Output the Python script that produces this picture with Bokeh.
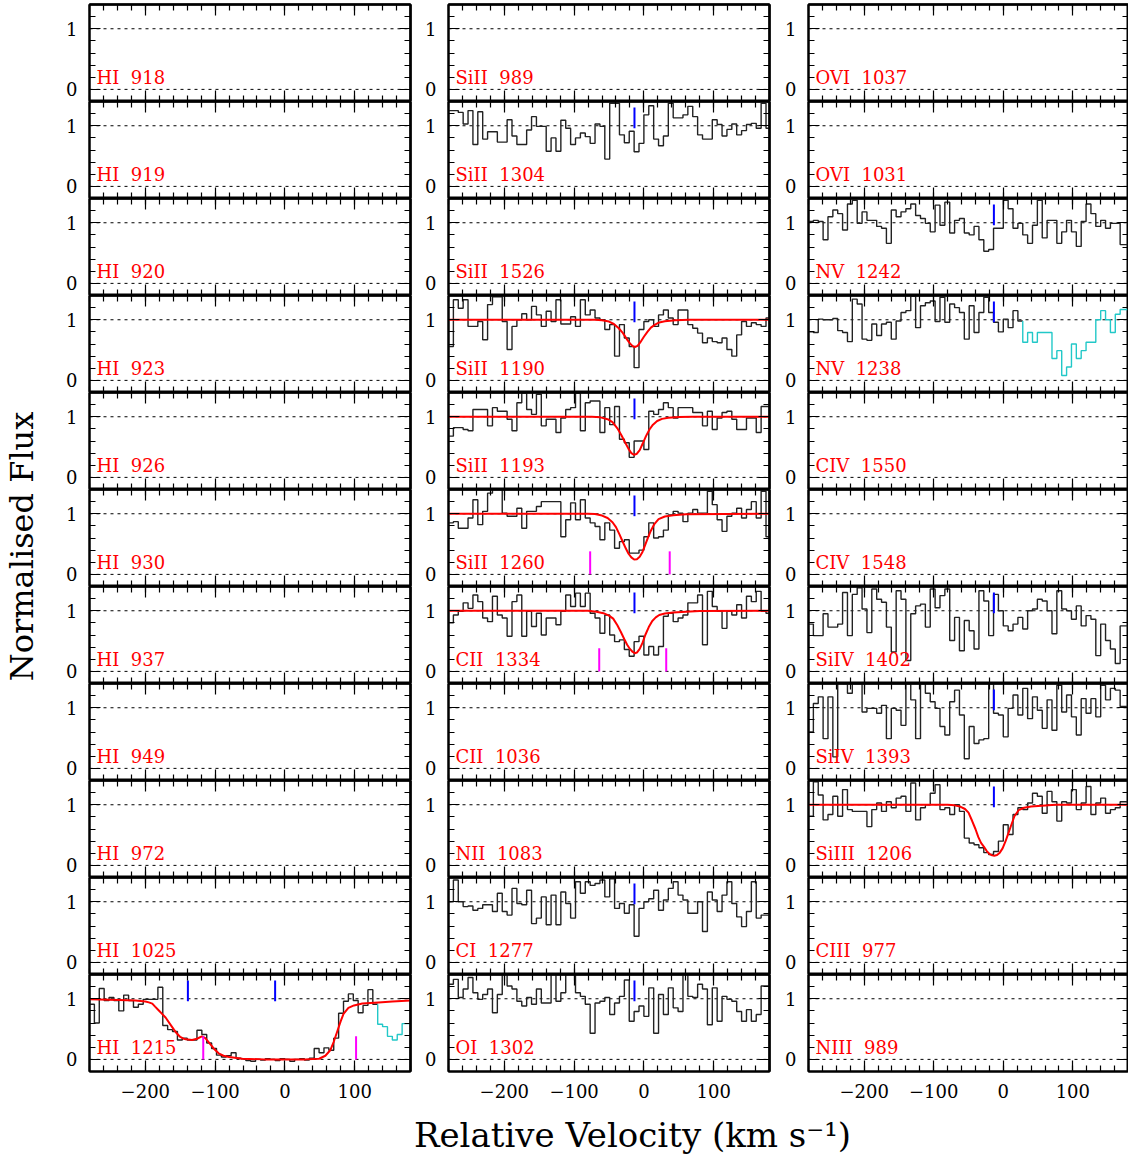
import numpy as np
from math import pi
from bokeh.plotting import figure
from bokeh.layouts import gridplot, row, column
from bokeh.models import Range1d, FixedTicker, LinearAxis, Span, Label
from bokeh.embed import file_html
from bokeh.resources import INLINE

FONT = "DejaVu Serif"

# ---------------- axes ----------------
X_RANGE = (-280, 180)
Y_RANGE = (-0.2, 1.4)
X_MAJOR = [-200, -100, 0, 100]
X_MAJOR_LABELS = ["\u2212200", "\u2212100", "0", "100"]
X_MINOR = [-280, -260, -240, -220, -200, -180, -160, -140, -120, -100, -80, -60,
           -40, -20, 0, 20, 40, 60, 80, 100, 120, 140, 160, 180]
Y_MAJOR = [0, 1]
Y_MINOR = [-0.2, 0.0, 0.2, 0.4, 0.6, 0.8, 1.0, 1.2, 1.4]

# velocity pixel grid of the spectra (km/s)
V_START = -280.0
BIN_WIDTH = 7.0
N_BINS = 66
edges = V_START + BIN_WIDTH * np.arange(N_BINS + 1)

# ---------------- panel labels ----------------
col1_labels = ["HI 918", "HI 919", "HI 920", "HI 923", "HI 926", "HI 930",
               "HI 937", "HI 949", "HI 972", "HI 1025", "HI 1215"]
col2_labels = ["SiII 989", "SiII 1304", "SiII 1526", "SiII 1190", "SiII 1193",
               "SiII 1260", "CII 1334", "CII 1036", "NII 1083", "CI 1277", "OI 1302"]
col3_labels = ["OVI 1037", "OVI 1031", "NV 1242", "NV 1238", "CIV 1550", "CIV 1548",
               "SiIV 1402", "SiIV 1393", "SiIII 1206", "CIII 977", "NIII 989"]

# ---------------- spectra (normalised flux per velocity bin) ----------------
flux_HI_1215 = [0.91, 0.60, 1.17, 0.97, 1.02, 0.97, 0.80, 1.06, 0.97, 0.86,
                0.91, 0.99, 0.99, 0.99, 1.19, 0.56, 0.49, 0.46, 0.32, 0.35,
                0.32, 0.32, 0.48, 0.41, 0.27, 0.18, 0.07, 0.04, 0.06, 0.11,
                0.02, 0.01, -0.02, -0.03, 0.00, -0.01, 0.01, 0.00, -0.02, 0.01,
                0.00, -0.03, 0.00, 0.01, -0.01, 0.02, 0.18, 0.11, 0.19, 0.15,
                0.35, 0.76, 0.96, 1.08, 0.97, 0.77, 0.89, 1.15, 0.91]
flux_HI_1215_blend = [0.58, 0.54, 0.38, 0.32, 0.41, 0.59, 0.59]

flux_SiII_1304 = [1.25, 1.25, 1.22, 1.03, 1.25, 0.69, 1.23, 0.78, 0.90, 0.90,
                  0.73, 0.73, 1.10, 0.83, 0.69, 0.69, 0.93, 1.15, 0.99, 0.99,
                  0.58, 0.80, 0.58, 1.09, 0.96, 0.69, 0.80, 0.88, 0.82, 0.71,
                  1.03, 0.99, 0.45, 1.37, 1.37, 0.85, 0.72, 0.91, 0.57, 0.71,
                  1.18, 1.33, 0.78, 0.67, 0.83, 1.37, 1.13, 1.13, 1.18, 1.32,
                  1.15, 0.85, 0.78, 0.78, 1.10, 1.02, 0.83, 0.94, 1.03, 0.85,
                  0.92, 1.02, 1.04, 0.96, 1.37, 0.96]
flux_SiII_1190 = [0.56, 1.33, 1.19, 1.33, 0.89, 0.89, 0.97, 0.67, 1.25, 1.38,
                  1.38, 0.97, 0.51, 0.89, 1.00, 1.10, 1.00, 1.22, 1.08, 0.89,
                  1.14, 0.97, 1.33, 0.93, 0.93, 1.05, 0.89, 1.33, 1.08, 1.16,
                  1.03, 1.00, 0.84, 0.92, 0.40, 0.92, 0.70, 0.56, 0.21, 0.84,
                  0.97, 1.00, 0.89, 1.08, 1.16, 1.03, 0.92, 1.16, 1.16, 0.92,
                  0.86, 0.78, 0.62, 0.70, 0.64, 0.62, 0.70, 0.51, 0.40, 0.75,
                  0.97, 0.89, 0.95, 0.92, 0.89, 1.03]
flux_SiII_1193 = [0.68, 0.82, 0.82, 0.79, 0.77, 1.12, 1.12, 1.12, 0.85, 1.15,
                  1.09, 1.09, 0.96, 0.77, 1.23, 1.39, 1.12, 1.04, 1.37, 0.85,
                  0.96, 0.96, 0.74, 0.98, 1.12, 1.15, 1.39, 0.77, 1.23, 1.26,
                  1.26, 0.74, 1.15, 0.87, 1.17, 0.63, 0.57, 0.33, 0.60, 0.60,
                  0.46, 1.09, 1.04, 1.12, 1.23, 1.15, 0.98, 1.15, 1.15, 1.15,
                  1.07, 1.07, 0.85, 1.09, 0.79, 0.98, 1.07, 1.09, 0.96, 0.79,
                  0.79, 0.98, 0.98, 0.74, 1.17, 1.17]
flux_SiII_1260 = [0.85, 0.87, 0.76, 0.76, 0.93, 1.23, 0.82, 1.04, 1.34, 1.40,
                  1.40, 1.01, 0.96, 0.96, 1.09, 0.76, 1.04, 1.04, 1.12, 1.20,
                  1.20, 1.20, 1.20, 0.62, 0.90, 1.18, 0.90, 1.23, 0.93, 0.85,
                  0.79, 0.57, 0.85, 0.73, 0.43, 0.54, 0.57, 0.35, 0.35, 0.40,
                  0.62, 0.85, 0.60, 0.62, 0.73, 0.98, 1.04, 1.01, 0.87, 1.01,
                  1.07, 1.01, 1.01, 1.37, 1.15, 0.90, 0.71, 0.96, 1.01, 1.09,
                  0.93, 1.07, 1.20, 0.93, 1.37, 0.62]
flux_CII_1334 = [0.80, 0.93, 0.99, 1.13, 1.04, 1.26, 1.15, 0.88, 0.82, 1.24,
                 0.93, 0.88, 0.58, 1.15, 1.26, 0.58, 0.99, 0.74, 0.96, 0.60,
                 0.88, 0.88, 0.77, 0.99, 1.26, 1.07, 1.29, 1.07, 1.29, 0.96,
                 0.88, 0.63, 0.93, 0.60, 0.49, 0.52, 0.36, 0.25, 0.49, 0.58,
                 0.27, 0.41, 0.27, 0.41, 0.91, 0.96, 0.82, 0.88, 0.93, 1.13,
                 1.13, 1.26, 0.44, 1.32, 1.07, 0.99, 0.71, 0.99, 0.93, 1.10,
                 0.88, 1.24, 1.15, 1.32, 0.99, 0.96]
flux_CI_1277 = [1.00, 1.36, 1.00, 0.92, 0.93, 0.86, 0.89, 0.95, 0.95, 0.84,
                1.14, 0.84, 0.78, 1.22, 0.97, 0.95, 1.19, 0.64, 0.73, 1.08,
                0.62, 1.11, 0.62, 1.16, 0.97, 0.73, 1.33, 1.14, 1.33, 1.27,
                1.30, 1.36, 1.08, 1.38, 0.89, 0.97, 0.81, 0.95, 0.43, 0.89,
                1.00, 1.05, 1.19, 0.86, 1.03, 1.22, 1.33, 1.11, 1.03, 0.81,
                0.81, 1.00, 0.51, 1.16, 1.03, 0.84, 1.11, 1.33, 0.97, 0.75,
                0.59, 0.84, 1.33, 0.73, 0.78, 0.78]
flux_OI_1302 = [1.24, 1.32, 1.02, 1.16, 1.35, 1.10, 0.99, 1.07, 1.16, 0.77,
                1.07, 1.41, 1.21, 1.16, 0.96, 0.88, 1.02, 0.91, 1.16, 0.93,
                0.93, 1.41, 0.96, 1.10, 1.41, 1.41, 1.10, 1.04, 0.91, 0.43,
                0.93, 0.96, 1.02, 0.74, 0.93, 1.04, 1.31, 0.63, 0.79, 0.88,
                0.71, 1.18, 0.43, 1.07, 0.74, 1.18, 0.85, 0.79, 1.41, 1.04,
                1.02, 1.24, 1.16, 0.57, 1.18, 0.63, 1.04, 0.99, 0.96, 0.79,
                0.63, 0.82, 0.63, 0.74, 1.21, 1.21]
flux_NV_1242 = [1.02, 1.04, 1.02, 0.72, 1.10, 1.21, 1.15, 0.88, 1.31, 1.37,
                0.99, 1.18, 1.04, 1.04, 0.94, 0.91, 0.66, 1.21, 1.10, 1.18,
                1.23, 1.31, 1.12, 1.07, 0.99, 0.85, 1.29, 0.96, 1.34, 0.83,
                1.04, 1.07, 0.83, 0.80, 0.94, 0.72, 0.53, 0.56, 0.91, 0.91,
                1.37, 1.23, 0.91, 0.99, 0.80, 0.66, 0.96, 1.37, 0.75, 1.04,
                1.04, 0.66, 0.85, 1.04, 0.85, 0.61, 1.02, 1.31, 1.15, 0.94,
                1.04, 0.91, 0.99, 0.99, 0.64, 0.64]
flux_NV_1238 = [0.80, 0.79, 1.01, 1.00, 1.00, 1.02, 0.82, 0.79, 0.64, 1.34,
                1.26, 0.68, 0.66, 0.93, 0.74, 0.93, 0.96, 0.68, 0.98, 1.12,
                1.15, 1.39, 0.87, 1.23, 1.28, 1.31, 0.97, 1.37, 0.96, 1.26,
                1.20, 1.12, 0.68, 1.23, 0.79, 1.12, 1.37, 1.12, 0.96, 0.80,
                1.01, 0.87, 1.15, 0.98]
flux_NV_1238_blend = [0.63, 0.79, 0.63, 0.79, 0.79, 0.79, 0.36, 0.49, 0.08, 0.22,
                      0.60, 0.36, 0.49, 0.63, 0.63, 1.00, 1.15, 1.00, 0.79, 1.09,
                      1.17, 1.17]
flux_SiIV_1402 = [0.78, 0.59, 0.59, 0.95, 0.73, 0.73, 0.78, 1.30, 0.59, 1.27,
                  1.38, 1.03, 0.64, 1.36, 1.19, 1.14, 0.73, 0.32, 1.33, 1.19,
                  0.18, 0.95, 1.08, 1.11, 0.73, 1.36, 1.05, 1.25, 1.36, 0.51,
                  0.89, 0.34, 0.84, 0.67, 0.37, 1.33, 1.16, 0.59, 1.27, 1.00,
                  0.75, 0.67, 0.78, 0.89, 0.70, 1.00, 1.03, 1.19, 1.16, 1.00,
                  0.62, 1.33, 1.03, 1.00, 0.86, 1.08, 0.75, 0.92, 0.86, 0.26,
                  0.78, 0.51, 0.37, 0.13, 0.75, 0.75]
flux_SiIV_1393 = [0.60, 1.07, 1.18, 0.49, 1.18, 0.19, 1.45, 1.40, 1.24, 1.40,
                  1.40, 0.93, 0.99, 0.99, 0.91, 1.04, 0.49, 0.99, 0.96, 0.71,
                  1.40, 1.13, 0.49, 1.40, 1.24, 1.10, 0.99, 0.69, 0.55, 1.10,
                  1.29, 0.88, 0.16, 0.69, 0.41, 0.47, 0.49, 1.40, 0.91, 0.88,
                  0.52, 0.99, 1.21, 0.88, 1.32, 0.82, 1.18, 0.96, 0.66, 1.13,
                  0.63, 1.37, 0.93, 1.21, 0.85, 0.55, 1.15, 0.91, 1.15, 0.85,
                  1.37, 1.13, 1.32, 1.29, 1.02, 1.02]
flux_SiIII_1206 = [0.81, 1.38, 1.16, 0.75, 0.84, 1.14, 0.81, 1.25, 0.92, 0.89,
                   0.89, 0.89, 0.64, 0.92, 1.03, 0.89, 1.05, 0.95, 1.11, 1.14,
                   0.89, 1.36, 0.75, 0.95, 1.00, 1.19, 1.33, 0.92, 0.95, 0.84,
                   1.00, 0.89, 0.45, 0.37, 0.34, 0.29, 0.21, 0.18, 0.23, 0.40,
                   0.67, 0.51, 0.84, 0.95, 0.92, 1.03, 1.19, 1.14, 0.86, 1.22,
                   1.05, 0.73, 1.05, 1.03, 1.25, 0.92, 1.03, 1.30, 0.84, 1.03,
                   1.11, 0.86, 0.92, 0.95, 1.05, 1.05]

# ---------------- fitted model profiles ----------------
model_v_HI_1215 = [-280, -238, -214, -200, -195, -190, -186, -181, -176, -171, -165,
                   -159, -155, -150, -146, -142, -133, -126, -119, -114, -109, -102,
                   -95, -88, -80, -61, -30, 0, 30, 49, 58, 65, 70, 75, 80, 84, 91,
                   99, 111, 134, 154, 180]
model_f_HI_1215 = [0.99, 0.98, 0.97, 0.955, 0.94, 0.92, 0.87, 0.81, 0.75, 0.69, 0.59,
                   0.49, 0.43, 0.37, 0.345, 0.33, 0.32, 0.34, 0.38, 0.35, 0.28, 0.18,
                   0.10, 0.06, 0.04, 0.01, 0.0, 0.0, 0.0, 0.01, 0.06, 0.15, 0.29, 0.46,
                   0.63, 0.75, 0.85, 0.89, 0.92, 0.94, 0.955, 0.97]
model_v_SiII_1190 = [-280, -70, -60, -50, -43, -36, -30, -25, -20, -16, -13, -9, -5,
                     0, 5, 10, 16, 22, 30, 45, 65, 180]
model_f_SiII_1190 = [1.0, 1.0, 0.99, 0.97, 0.93, 0.86, 0.78, 0.69, 0.61, 0.565, 0.55,
                     0.57, 0.63, 0.72, 0.80, 0.87, 0.92, 0.955, 0.975, 0.99, 1.0, 1.0]
model_v_SiII_1193 = [-280, -75, -62, -52, -45, -38, -32, -27, -22, -18, -14, -10, -6,
                     -2, 3, 8, 13, 19, 26, 35, 50, 70, 180]
model_f_SiII_1193 = [1.0, 1.0, 0.99, 0.96, 0.91, 0.81, 0.69, 0.58, 0.47, 0.40, 0.37,
                     0.39, 0.45, 0.55, 0.68, 0.79, 0.87, 0.93, 0.965, 0.985, 0.995,
                     1.0, 1.0]
model_v_SiII_1260 = [-280, -80, -70, -60, -52, -45, -40, -35, -30, -26, -22, -18, -14,
                     -10, -6, -2, 2, 6, 10, 15, 21, 30, 42, 60, 180]
model_f_SiII_1260 = [1.0, 1.0, 0.995, 0.97, 0.93, 0.86, 0.78, 0.66, 0.53, 0.43, 0.34,
                     0.28, 0.245, 0.25, 0.29, 0.37, 0.49, 0.61, 0.72, 0.83, 0.91,
                     0.955, 0.975, 0.99, 1.0]
model_v_CII_1334 = [-280, -80, -68, -58, -50, -44, -38, -33, -28, -24, -20, -16, -13,
                    -10, -6, -2, 2, 7, 12, 17, 22, 30, 42, 60, 80, 180]
model_f_CII_1334 = [1.0, 1.0, 0.985, 0.96, 0.92, 0.87, 0.76, 0.65, 0.53, 0.44, 0.37,
                    0.32, 0.30, 0.31, 0.37, 0.47, 0.60, 0.73, 0.83, 0.89, 0.93, 0.955,
                    0.97, 0.985, 0.995, 1.0]
model_v_SiIII_1206 = [-280, -80, -70, -62, -55, -50, -45, -40, -36, -32, -28, -24, -20,
                      -16, -13, -9, -5, -1, 3, 7, 11, 16, 22, 30, 40, 55, 75, 180]
model_f_SiIII_1206 = [1.0, 1.0, 0.99, 0.97, 0.93, 0.87, 0.74, 0.60, 0.47, 0.37, 0.31,
                      0.24, 0.19, 0.165, 0.16, 0.17, 0.21, 0.28, 0.39, 0.52, 0.65,
                      0.81, 0.91, 0.95, 0.97, 0.985, 1.0, 1.0]

# ---------------- component velocities ----------------
blue_HI_1215 = [-139, -14]
magenta_HI_1215 = [-117, 102]
blue_metal = [-13.5]
magenta_SiII_1260 = [-77, 37]
magenta_CII_1334 = [-64, 32]

panels = {
    "HI 1215": dict(flux=flux_HI_1215, blend=flux_HI_1215_blend,
                    model=(model_v_HI_1215, model_f_HI_1215),
                    blue=blue_HI_1215, magenta=magenta_HI_1215),
    "SiII 1304": dict(flux=flux_SiII_1304, blue=blue_metal),
    "SiII 1190": dict(flux=flux_SiII_1190, model=(model_v_SiII_1190, model_f_SiII_1190),
                      blue=blue_metal),
    "SiII 1193": dict(flux=flux_SiII_1193, model=(model_v_SiII_1193, model_f_SiII_1193),
                      blue=blue_metal),
    "SiII 1260": dict(flux=flux_SiII_1260, model=(model_v_SiII_1260, model_f_SiII_1260),
                      blue=blue_metal, magenta=magenta_SiII_1260),
    "CII 1334": dict(flux=flux_CII_1334, model=(model_v_CII_1334, model_f_CII_1334),
                     blue=blue_metal, magenta=magenta_CII_1334),
    "CI 1277": dict(flux=flux_CI_1277, blue=blue_metal),
    "OI 1302": dict(flux=flux_OI_1302, blue=blue_metal),
    "NV 1242": dict(flux=flux_NV_1242, blue=blue_metal),
    "NV 1238": dict(flux=flux_NV_1238, blend=flux_NV_1238_blend, blue=blue_metal),
    "SiIV 1402": dict(flux=flux_SiIV_1402, blue=blue_metal),
    "SiIV 1393": dict(flux=flux_SiIV_1393, blue=blue_metal),
    "SiIII 1206": dict(flux=flux_SiIII_1206, model=(model_v_SiIII_1206, model_f_SiIII_1206),
                       blue=blue_metal),
}

# ---------------- geometry / style ----------------
COL_BORDERS = [(39, 12), (26, 13), (26, 0)]
FRAME_W = [321, 321, 320]
FRAME_H = 97
TOP_BORDER = 4
BOTTOM_BORDER = 36
DATA_COLOR = "#222222"
BLEND_COLOR = "#22c8c8"
MODEL_COLOR = "#ff0000"
BLUE = "#0000ff"
MAGENTA = "#ff00ff"
LABEL_COLOR = "#ff0000"
MAJOR_LEN = 11
MINOR_LEN = 6
LABEL_X = -270
LABEL_Y = 0.19


def base_axis_style(ax):
    ax.axis_line_color = "black"
    ax.axis_line_width = 2
    ax.major_tick_out = 0
    ax.minor_tick_out = 0
    ax.major_tick_line_color = "black"
    ax.minor_tick_line_color = "black"
    ax.major_tick_line_width = 1.2
    ax.minor_tick_line_width = 1.2


def add_labelled_axis(p, loc, majors, minors, overrides=None, standoff=12):
    ax = LinearAxis(ticker=FixedTicker(ticks=majors, minor_ticks=minors))
    base_axis_style(ax)
    ax.major_tick_in = MAJOR_LEN
    ax.minor_tick_in = MINOR_LEN
    ax.major_label_text_font = FONT
    ax.major_label_text_font_size = "18px"
    ax.major_label_text_color = "black"
    ax.major_label_standoff = standoff
    if overrides:
        ax.major_label_overrides = overrides
    p.add_layout(ax, loc)


def add_plain_axis(p, loc, majors, minors):
    # ticks only, no labels: two tick-only axes on the same side (short and long ticks)
    for ticks, length in ((minors, MINOR_LEN), (majors, MAJOR_LEN)):
        ax = LinearAxis(ticker=FixedTicker(ticks=[], minor_ticks=ticks))
        base_axis_style(ax)
        ax.major_tick_in = 0
        ax.minor_tick_in = length
        ax.major_label_standoff = 0
        p.add_layout(ax, loc)


def draw_steps(p, vals, start_bin, color, lead=None):
    n = len(vals)
    x = list(edges[start_bin:start_bin + n + 1])
    y = list(vals)[:len(x) - 1]
    y = y + [y[-1]]
    if lead is not None:
        x = [x[0]] + x
        y = [lead] + y
    p.step(x=x, y=y, mode="after", line_color=color, line_width=1.4)


def make_panel(label, c, r):
    first = (r == 0)
    last = (r == 10)
    bl, br = COL_BORDERS[c]
    bb = BOTTOM_BORDER if last else 0
    bt = TOP_BORDER if first else 0
    p = figure(width=bl + FRAME_W[c] + br, height=bt + FRAME_H + bb,
               x_range=Range1d(*X_RANGE), y_range=Range1d(*Y_RANGE),
               output_backend="svg", toolbar_location=None, tools="",
               x_axis_location=None, y_axis_location=None,
               min_border_left=bl, min_border_right=br,
               min_border_top=bt, min_border_bottom=bb,
               outline_line_color="black", outline_line_width=2,
               background_fill_color="white", border_fill_color="white")
    p.grid.visible = False

    add_labelled_axis(p, "left", Y_MAJOR, Y_MINOR)
    add_plain_axis(p, "right", Y_MAJOR, Y_MINOR)
    add_plain_axis(p, "above", X_MAJOR, X_MINOR)
    if last:
        add_labelled_axis(p, "below", X_MAJOR, X_MINOR,
                          overrides=dict(zip(X_MAJOR, X_MAJOR_LABELS)), standoff=12)
    else:
        add_plain_axis(p, "below", X_MAJOR, X_MINOR)

    for lev in (0, 1):
        p.add_layout(Span(location=lev, dimension="width", line_color="black",
                          line_width=1, line_dash="3 4", level="underlay"))

    spec = panels.get(label)
    if spec is not None:
        flux = spec["flux"]
        draw_steps(p, flux, 0, DATA_COLOR)
        if "blend" in spec:
            draw_steps(p, spec["blend"], len(flux), BLEND_COLOR, lead=flux[-1])
        if "model" in spec:
            mv, mf = spec["model"]
            p.line(mv, mf, line_color=MODEL_COLOR, line_width=2)
        if "blue" in spec:
            b = spec["blue"]
            p.segment(x0=b, x1=b, y0=[0.96] * len(b), y1=[1.30] * len(b),
                      line_color=BLUE, line_width=2)
        if "magenta" in spec:
            m = spec["magenta"]
            p.segment(x0=m, x1=m, y0=[0.0] * len(m), y1=[0.38] * len(m),
                      line_color=MAGENTA, line_width=2)

    name, num = label.split(" ")
    p.add_layout(Label(x=LABEL_X, y=LABEL_Y, text=name + "\u00a0 " + num,
                       text_color=LABEL_COLOR, text_font=FONT, text_font_size="18px",
                       text_align="left", text_baseline="alphabetic"))
    return p


columns_labels = [col1_labels, col2_labels, col3_labels]
grid_rows = []
for r in range(11):
    grid_rows.append([make_panel(columns_labels[c][r], c, r) for c in range(3)])
grid = gridplot(grid_rows, toolbar_location=None)

GRID_H = TOP_BORDER + 11 * FRAME_H + BOTTOM_BORDER
YL_W = 50
ylab = figure(width=YL_W, height=GRID_H, x_range=Range1d(0, YL_W), y_range=Range1d(0, GRID_H),
              output_backend="svg", toolbar_location=None, tools="",
              x_axis_location=None, y_axis_location=None,
              min_border_left=0, min_border_right=0, min_border_top=0, min_border_bottom=0,
              outline_line_color=None)
ylab.grid.visible = False
ylab.add_layout(Label(x=21, y=GRID_H - 546, text="Normalised Flux", angle=pi / 2,
                      text_font=FONT, text_font_size="32px", text_color="black",
                      text_align="center", text_baseline="alphabetic"))

XL_W, XL_H = 1128, 48
xlab = figure(width=XL_W, height=XL_H, x_range=Range1d(0, XL_W), y_range=Range1d(0, XL_H),
              output_backend="svg", toolbar_location=None, tools="",
              x_axis_location=None, y_axis_location=None,
              min_border_left=0, min_border_right=0, min_border_top=0, min_border_bottom=0,
              outline_line_color=None)
xlab.grid.visible = False
xlab.add_layout(Label(x=632, y=21, text="Relative Velocity (km s\u207b\u00b9)",
                      text_font=FONT, text_font_size="34px", text_color="black",
                      text_align="center", text_baseline="alphabetic"))

layout = column(row(ylab, grid), xlab)
open("out.html", "w").write(file_html(layout, INLINE))
